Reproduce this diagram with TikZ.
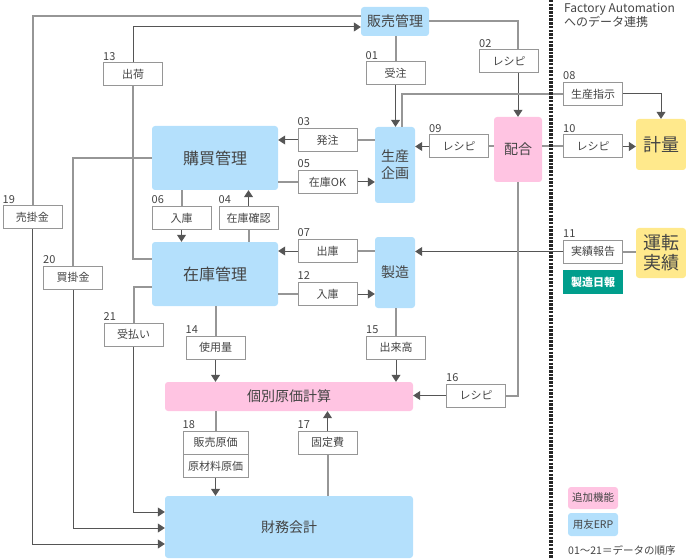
\documentclass[tikz,border=0pt]{standalone}
\usepackage{fontspec}
\setmainfont{Noto Sans CJK JP}
\usetikzlibrary{arrows.meta,positioning}
\definecolor{erpblue}{RGB}{180,224,252}
\definecolor{addpink}{RGB}{255,196,226}
\definecolor{fayellow}{RGB}{255,233,140}
\definecolor{reportteal}{RGB}{0,158,140}
\definecolor{textgray}{RGB}{68,68,68}
\definecolor{linegray}{RGB}{150,150,150}
\definecolor{tipgray}{RGB}{85,85,85}
\tikzset{
  module/.style={rounded corners=3pt,inner sep=0pt,text=textgray,align=center},
  erp/.style={module,fill=erpblue},
  addon/.style={module,fill=addpink},
  fa/.style={module,fill=fayellow,font=\fontsize{18}{20}\selectfont},
  lbl/.style={draw=linegray,line width=1pt,fill=white,text=textgray,minimum width=59pt,minimum height=23pt,inner sep=0pt,font=\fontsize{11}{11}\selectfont},
  num/.style={anchor=south west,inner sep=0pt,yshift=2pt,text=textgray,font=\fontsize{11}{11}\selectfont},
  link/.style={draw=linegray,line width=2pt},
  flow/.style={draw=tipgray,line width=1pt,-{Triangle[length=7pt,width=9pt]}}
}
\begin{document}
\begin{tikzpicture}[x=1pt,y=-1pt]
\useasboundingbox (0,0) rectangle (686,559);
% modules
\node[erp,minimum width=68pt,minimum height=29pt,font=\fontsize{14}{14}\selectfont] (sales) at (395,21.5) {販売管理};
\node[erp,minimum width=40pt,minimum height=76pt,font=\fontsize{14}{17}\selectfont] (plan) at (395,165) {生産\\企画};
\node[addon,minimum width=48pt,minimum height=65pt,font=\fontsize{14}{14}\selectfont] (mix) at (518,149.5) {配合};
\node[fa,minimum width=50pt,minimum height=51pt] (weigh) at (661,144.5) {計量};
\node[fa,minimum width=50pt,minimum height=50pt] (run) at (661,253) {運転\\実績};
\node[module,fill=reportteal,text=white,minimum width=60pt,minimum height=24pt,rounded corners=0pt,font=\fontsize{11}{11}\selectfont\bfseries] (report) at (593,282) {製造日報};
\node[erp,minimum width=126pt,minimum height=64pt,font=\fontsize{16}{16}\selectfont] (purch) at (215,158) {購買管理};
\node[erp,minimum width=126pt,minimum height=64pt,font=\fontsize{16}{16}\selectfont] (stock) at (215,274) {在庫管理};
\node[erp,minimum width=40pt,minimum height=71pt,font=\fontsize{14}{14}\selectfont] (mfg) at (395,272.5) {製造};
\node[addon,minimum width=248pt,minimum height=29pt,font=\fontsize{14}{14}\selectfont] (cost) at (289,396.5) {個別原価計算};
\node[erp,minimum width=248pt,minimum height=62pt,font=\fontsize{14}{14}\selectfont] (fin) at (289,527) {財務会計};

% data labels
\node[lbl] (l01) at (395.5,73.5) {受注};
\node[lbl] (l02) at (509,61.5) {レシピ};
\node[lbl] (l03) at (327.5,140) {発注};
\node[lbl] (l04) at (248.5,218) {在庫確認};
\node[lbl] (l05) at (327.5,182) {在庫OK};
\node[lbl] (l06) at (181.5,218) {入庫};
\node[lbl] (l07) at (327.5,251) {出庫};
\node[lbl] (l08) at (593,94) {生産指示};
\node[lbl] (l09) at (459,146.5) {レシピ};
\node[lbl] (l10) at (593,146.5) {レシピ};
\node[lbl] (l11) at (593,251.5) {実績報告};
\node[lbl] (l12) at (327.5,294) {入庫};
\node[lbl] (l13) at (133,74.5) {出荷};
\node[lbl] (l14) at (215.5,347.5) {使用量};
\node[lbl] (l15) at (396,347.5) {出来高};
\node[lbl] (l16) at (476,395.5) {レシピ};
\node[lbl] (l17) at (327.5,442.5) {固定費};
\node[lbl,minimum width=65pt] (l18) at (215.5,442.5) {販売原価};
\node[lbl,minimum width=65pt] (l18b) at (215.5,466) {原材料原価};
\node[lbl] (l19) at (32.5,217.5) {売掛金};
\node[lbl] (l20) at (73,277.5) {買掛金};
\node[lbl] (l21) at (133.5,334.5) {受払い};
\foreach \n in {01,02,03,04,05,06,07,08,09,10,11,12,13,14,15,16,17,18,19,20,21}
  \node[num] at (l\n.north west) {\n};

% connectors
\draw[link] (sales.south -| l01) -- (l01.north);
\draw[flow] (l01.south) -- (plan.north -| l01);
\draw[link] (sales.east) -| (mix.north |- l02.north);
\draw[flow] (mix.north |- l02.south) -- (mix.north);
\draw[link] (plan.west |- l03) -- (l03.east);
\draw[flow] (l03.west) -- (purch.east |- l03);
\draw[link] (purch.east |- l05) -- (l05.west);
\draw[flow] (l05.east) -- (plan.west |- l05);
\draw[link] (purch.south -| l06) -- (l06.north);
\draw[flow] (l06.south) -- (stock.north -| l06);
\draw[link] (stock.north -| l04) -- (l04.south);
\draw[flow] (l04.north) -- (purch.south -| l04);
\draw[link] (mfg.west |- l07) -- (l07.east);
\draw[flow] (l07.west) -- (stock.east |- l07);
\draw[link] (stock.east |- l12) -- (l12.west);
\draw[flow] (l12.east) -- (mfg.west |- l12);
\draw[link] (mix.west |- l09) -- (l09.east);
\draw[flow] (l09.west) -- (plan.east |- l09);
\draw[link] (mix.east |- l10) -- (l10.west);
\draw[flow] (l10.east) -- (weigh.west |- l10);
\draw[link] ([xshift=7pt]plan.north) |- (l08.west);
\draw[flow] (l08.east) -| (weigh.north);
\draw[link] (run.west |- l11) -- (l11.east);
\draw[flow] (l11.west) -- (mfg.east |- l11);
\draw[link] ([yshift=15pt]stock.west) -| (l13.south);
\draw[flow] (l13.north) |- ([yshift=-5.5pt]sales.west);
\draw[link] ([yshift=5.5pt]sales.west) -| (l19.north);
\draw[flow] (l19.south) |- ([yshift=-17pt]fin.west);
\draw[link] (purch.west) -| (l20.north);
\draw[flow] (l20.south) |- ([yshift=-1pt]fin.west);
\draw[link] ([yshift=-13pt]stock.west) -| (l21.north);
\draw[flow] (l21.south) |- ([yshift=15pt]fin.west);
\draw[link] (stock.south -| l14) -- (l14.north);
\draw[flow] (l14.south) -- (cost.north -| l14);
\draw[link] (mfg.south -| l15) -- (l15.north);
\draw[flow] (l15.south) -- (cost.north -| l15);
\draw[link] (mix.south) |- (l16.east);
\draw[flow] (l16.west) -- (cost.east |- l16);
\draw[link] (cost.south -| l18) -- (l18.north);
\draw[flow] (l18b.south) -- (fin.north -| l18b);
\draw[link] (fin.north -| l17) -- (l17.south);
\draw[flow] (l17.north) -- (cost.south -| l17);

% factory automation side
\draw[black!85,line width=4pt,dash pattern=on 2.5pt off 1.2pt] (551,0) -- (551,559);
\node[anchor=north west,inner sep=0pt,align=left,text=textgray,font=\fontsize{12}{14.5}\selectfont] (fatitle) at (564,3) {Factory Automation\\へのデータ連携};

% legend
\node[addon,minimum width=50pt,minimum height=22pt,font=\fontsize{10.5}{10.5}\selectfont] (keyadd) at (593,498) {追加機能};
\node[erp,minimum width=50pt,minimum height=23pt,font=\fontsize{10.5}{10.5}\selectfont] (keyerp) at (593,524.5) {用友ERP};
\node[anchor=west,inner sep=0pt,text=textgray,font=\fontsize{10.5}{10.5}\selectfont] (keyorder) at (568,550) {01～21＝データの順序};
\end{tikzpicture}
\end{document}
